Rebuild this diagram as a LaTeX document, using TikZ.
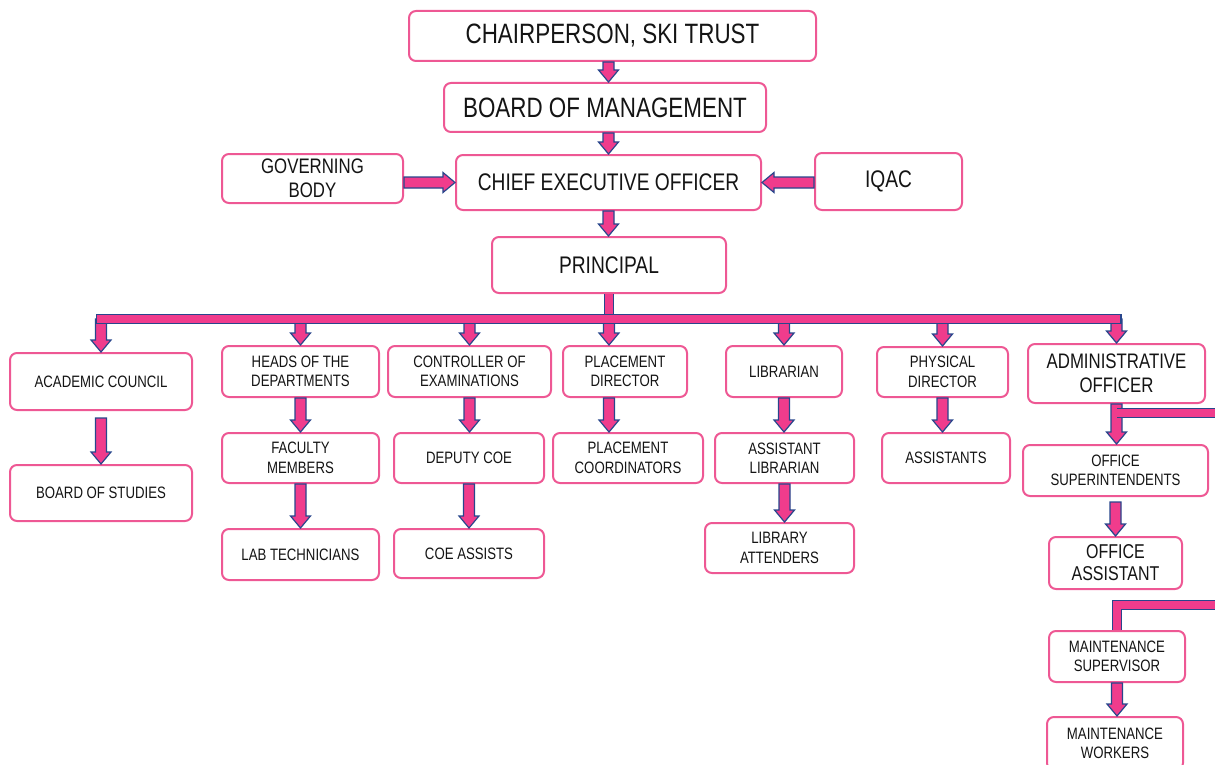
\documentclass[tikz,border=0pt]{standalone}
\usepackage{fontspec}
\setmainfont{Liberation Sans}[FakeStretch=0.8]
\usetikzlibrary{calc}

\definecolor{boxpink}{RGB}{238,88,148}
\definecolor{arrowpink}{RGB}{240,60,140}
\definecolor{arrowblue}{RGB}{40,70,140}
\definecolor{textdark}{RGB}{20,20,20}

\begin{document}
\begin{tikzpicture}[x=1pt, y=-1pt,
    box/.style={draw=boxpink, line width=2pt, rounded corners=7pt, fill=white,
        align=center, inner sep=0pt, text=textdark},
    bigtext/.style={font=\fontsize{28}{30}\selectfont},
    midtext/.style={font=\fontsize{24}{26}\selectfont},
    medtext/.style={font=\fontsize{21}{24}\selectfont},
    smalltext/.style={font=\fontsize{16.5}{19.5}\selectfont},
    blockarrow/.style={draw=arrowblue, fill=arrowpink, line width=1.2pt, line join=miter,
        to path={let \p1=($(\tikztotarget)!12pt!(\tikztostart)$) in
            ($(\tikztostart)!5.5pt!90:(\tikztotarget)$) -- ($(\p1)!5.5pt!90:(\tikztotarget)$)
            -- ($(\p1)!10pt!90:(\tikztotarget)$) -- (\tikztotarget)
            -- ($(\p1)!10pt!-90:(\tikztotarget)$) -- ($(\p1)!5.5pt!-90:(\tikztotarget)$)
            -- ($(\tikztostart)!5.5pt!-90:(\tikztotarget)$) -- cycle}},
    busline/.style={draw=arrowblue, line width=1.2pt, double=arrowpink, double distance=7.6pt}
]

    % Fix the page size
    \useasboundingbox (0,0) rectangle (1215,765);
    \clip (0,0) rectangle (1215,765);

    % Top of the chart
    \node[box, bigtext, minimum width=407pt, minimum height=50pt] (chair) at (612.5,36) {CHAIRPERSON, SKI TRUST};
    \node[box, bigtext, minimum width=322pt, minimum height=49pt] (bom) at (605,107.5) {BOARD OF MANAGEMENT};
    \node[box, midtext, minimum width=305pt, minimum height=55pt] (ceo) at (608.5,182.5) {CHIEF EXECUTIVE OFFICER};
    \node[box, medtext, minimum width=181pt, minimum height=49pt] (gb) at (312.5,178.5) {GOVERNING\\BODY};
    \node[box, midtext, minimum width=147pt, minimum height=57pt] (iqac) at (888.5,181.5) {IQAC};
    \node[box, midtext, minimum width=234pt, minimum height=56pt] (principal) at (609,265) {PRINCIPAL};

    % First row below the principal
    \node[box, smalltext, minimum width=182pt, minimum height=57pt] (acad) at (101,381.5) {ACADEMIC COUNCIL};
    \node[box, smalltext, minimum width=157pt, minimum height=51pt] (heads) at (300.5,371.5) {HEADS OF THE\\DEPARTMENTS};
    \node[box, smalltext, minimum width=163pt, minimum height=51pt] (coe) at (469.5,371.5) {CONTROLLER OF\\EXAMINATIONS};
    \node[box, smalltext, minimum width=124pt, minimum height=51pt] (pdir) at (625,371.5) {PLACEMENT\\DIRECTOR};
    \node[box, smalltext, minimum width=116pt, minimum height=51pt] (lib) at (784,371.5) {LIBRARIAN};
    \node[box, smalltext, minimum width=131pt, minimum height=50pt] (phys) at (942.5,372) {PHYSICAL\\DIRECTOR};
    \node[box, medtext, minimum width=177pt, minimum height=59pt] (admin) at (1116.5,373.5) {ADMINISTRATIVE\\OFFICER};

    % Second row
    \node[box, smalltext, minimum width=182pt, minimum height=56pt] (bos) at (101,493) {BOARD OF STUDIES};
    \node[box, smalltext, minimum width=157pt, minimum height=50pt] (faculty) at (300.5,458) {FACULTY\\MEMBERS};
    \node[box, smalltext, minimum width=150pt, minimum height=50pt] (dcoe) at (469,458) {DEPUTY COE};
    \node[box, smalltext, minimum width=150pt, minimum height=50pt] (pcoord) at (628,458) {PLACEMENT\\COORDINATORS};
    \node[box, smalltext, minimum width=139pt, minimum height=50pt] (alib) at (784.5,458) {ASSISTANT\\LIBRARIAN};
    \node[box, smalltext, minimum width=128pt, minimum height=50pt] (assts) at (946,458) {ASSISTANTS};
    \node[box, smalltext, minimum width=185pt, minimum height=51pt] (osup) at (1115.5,470.5) {OFFICE\\SUPERINTENDENTS};

    % Third row and below
    \node[box, smalltext, minimum width=157pt, minimum height=51pt] (lab) at (300.5,554.5) {LAB TECHNICIANS};
    \node[box, smalltext, minimum width=150pt, minimum height=49pt] (coeas) at (469,553.5) {COE ASSISTS};
    \node[box, smalltext, minimum width=149pt, minimum height=50pt] (libatt) at (779.5,548) {LIBRARY\\ATTENDERS};
    \node[box, font=\fontsize{20}{22}\selectfont, minimum width=133pt, minimum height=52pt] (oasst) at (1115.5,563) {OFFICE\\ASSISTANT};
    \node[box, smalltext, minimum width=136pt, minimum height=51pt] (msup) at (1117,656.5) {MAINTENANCE\\SUPERVISOR};
    \node[box, smalltext, minimum width=136pt, minimum height=53pt] (mwork) at (1115,743.5) {MAINTENANCE\\WORKERS};

    % Bus line and free ends going off the page
    \coordinate (bus) at (610,319);
    \coordinate (offA) at (1230,413);
    \coordinate (offB) at (1230,605);

    % Arrows down the top of the chart
    \draw[blockarrow] (chair.south -| ceo.north) to (bom.north -| ceo.north);
    \draw[blockarrow] (bom.south -| ceo.north) to (ceo.north);
    \draw[blockarrow] (ceo.south) to (ceo.south |- principal.north);
    \draw[blockarrow] (ceo.west -| gb.east) to (ceo.west);
    \draw[blockarrow] (ceo.east -| iqac.west) to (ceo.east);

    % Arrows from the bus line
    \draw[blockarrow] (acad.north |- bus) to (acad.north);
    \draw[blockarrow] (heads.north |- bus) to (heads.north);
    \draw[blockarrow] (coe.north |- bus) to (coe.north);
    \draw[blockarrow] (principal.south |- bus) to (principal.south |- pdir.north);
    \draw[blockarrow] (lib.north |- bus) to (lib.north);
    \draw[blockarrow] (phys.north |- bus) to (phys.north);
    \draw[blockarrow] (admin.north |- bus) to (admin.north);
    \draw[busline] (principal.south) -- (principal.south |- bus);
    \draw[busline, line cap=rect] (acad.north |- bus) -- (admin.north |- bus);

    % Arrows inside each column
    \draw[blockarrow] ($(acad.south)+(0,7)$) to (bos.north);
    \draw[blockarrow] (heads.south) to (faculty.north);
    \draw[blockarrow] (faculty.south) to (lab.north);
    \draw[blockarrow] (coe.south) to (coe.south |- dcoe.north);
    \draw[blockarrow] (dcoe.south) to (coeas.north);
    \draw[blockarrow] (pdir.south -| principal.south) to (pcoord.north -| principal.south);
    \draw[blockarrow] (lib.south) to (lib.south |- alib.north);
    \draw[blockarrow] (alib.south) to (alib.south |- libatt.north);
    \draw[blockarrow] (phys.south) to (phys.south |- assts.north);
    \draw[blockarrow] (admin.south) to (admin.south |- osup.north);
    \draw[blockarrow] ($(osup.south)+(0,5)$) to (oasst.north);
    \draw[blockarrow] (msup.south) to (msup.south |- mwork.north);
    \draw[busline] (offA) -- (offA -| admin.south);
    \draw[busline] (offB) -| (msup.north);

\end{tikzpicture}
\end{document}
